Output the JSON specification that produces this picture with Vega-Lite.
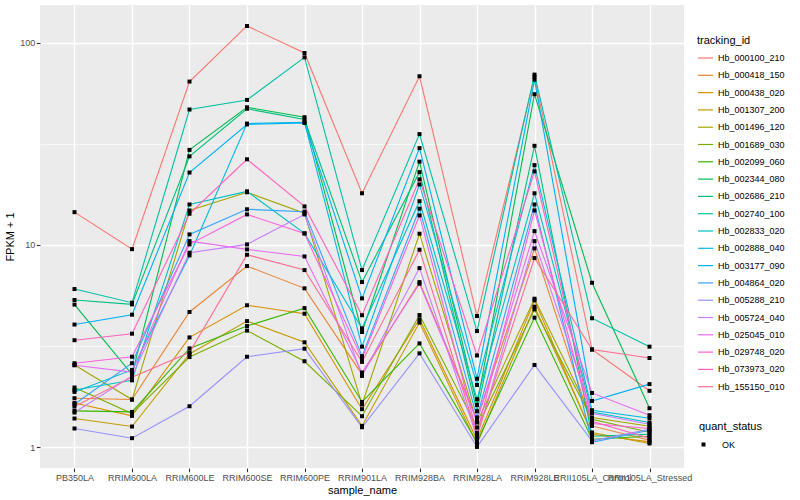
{
"$schema":"https://vega.github.io/schema/vega-lite/v6.json",
"width":644,"height":463,
"autosize":{"type":"none"},
"padding":{"left":40,"top":5,"right":116,"bottom":32},
"background":"white",
"config":{"view":{"fill":"#EBEBEB","stroke":null},"font":"Liberation Sans",
"axis":{"labelFont":"Liberation Sans","titleFont":"Liberation Sans","labelFontSize":9,"titleFontSize":11,"titleFontWeight":"normal","titleColor":"black","labelColor":"#4D4D4D","tickColor":"#333333","tickSize":3.7,"tickWidth":1.1,"domain":false,"grid":true,"gridColor":"white","gridWidth":1.4},
"legend":{"labelFont":"Liberation Sans","titleFont":"Liberation Sans","labelFontSize":9,"titleFontSize":11,"titleFontWeight":"normal","titleColor":"black","labelColor":"black"}},
"data":{"values":[
{"tracking_id":"Hb_000100_210","sample_name":"PB350LA","fpkm":14.52,"quant_status":"OK"},
{"tracking_id":"Hb_000100_210","sample_name":"RRIM600LA","fpkm":9.53,"quant_status":"OK"},
{"tracking_id":"Hb_000100_210","sample_name":"RRIM600LE","fpkm":64.2,"quant_status":"OK"},
{"tracking_id":"Hb_000100_210","sample_name":"RRIM600SE","fpkm":120.9,"quant_status":"OK"},
{"tracking_id":"Hb_000100_210","sample_name":"RRIM600PE","fpkm":88.9,"quant_status":"OK"},
{"tracking_id":"Hb_000100_210","sample_name":"RRIM901LA","fpkm":18.0,"quant_status":"OK"},
{"tracking_id":"Hb_000100_210","sample_name":"RRIM928BA","fpkm":68.2,"quant_status":"OK"},
{"tracking_id":"Hb_000100_210","sample_name":"RRIM928LA","fpkm":4.45,"quant_status":"OK"},
{"tracking_id":"Hb_000100_210","sample_name":"RRIM928LE","fpkm":67.7,"quant_status":"OK"},
{"tracking_id":"Hb_000100_210","sample_name":"RRII105LA_Control","fpkm":3.04,"quant_status":"OK"},
{"tracking_id":"Hb_000100_210","sample_name":"RRII105LA_Stressed","fpkm":1.90,"quant_status":"OK"},
{"tracking_id":"Hb_000418_150","sample_name":"PB350LA","fpkm":1.746,"quant_status":"OK"},
{"tracking_id":"Hb_000418_150","sample_name":"RRIM600LA","fpkm":1.72,"quant_status":"OK"},
{"tracking_id":"Hb_000418_150","sample_name":"RRIM600LE","fpkm":4.66,"quant_status":"OK"},
{"tracking_id":"Hb_000418_150","sample_name":"RRIM600SE","fpkm":7.86,"quant_status":"OK"},
{"tracking_id":"Hb_000418_150","sample_name":"RRIM600PE","fpkm":6.10,"quant_status":"OK"},
{"tracking_id":"Hb_000418_150","sample_name":"RRIM901LA","fpkm":2.29,"quant_status":"OK"},
{"tracking_id":"Hb_000418_150","sample_name":"RRIM928BA","fpkm":6.55,"quant_status":"OK"},
{"tracking_id":"Hb_000418_150","sample_name":"RRIM928LA","fpkm":1.375,"quant_status":"OK"},
{"tracking_id":"Hb_000418_150","sample_name":"RRIM928LE","fpkm":9.61,"quant_status":"OK"},
{"tracking_id":"Hb_000418_150","sample_name":"RRII105LA_Control","fpkm":1.274,"quant_status":"OK"},
{"tracking_id":"Hb_000418_150","sample_name":"RRII105LA_Stressed","fpkm":1.083,"quant_status":"OK"},
{"tracking_id":"Hb_000438_020","sample_name":"PB350LA","fpkm":1.655,"quant_status":"OK"},
{"tracking_id":"Hb_000438_020","sample_name":"RRIM600LA","fpkm":1.428,"quant_status":"OK"},
{"tracking_id":"Hb_000438_020","sample_name":"RRIM600LE","fpkm":3.49,"quant_status":"OK"},
{"tracking_id":"Hb_000438_020","sample_name":"RRIM600SE","fpkm":5.03,"quant_status":"OK"},
{"tracking_id":"Hb_000438_020","sample_name":"RRIM600PE","fpkm":4.57,"quant_status":"OK"},
{"tracking_id":"Hb_000438_020","sample_name":"RRIM901LA","fpkm":1.541,"quant_status":"OK"},
{"tracking_id":"Hb_000438_020","sample_name":"RRIM928BA","fpkm":4.29,"quant_status":"OK"},
{"tracking_id":"Hb_000438_020","sample_name":"RRIM928LA","fpkm":1.087,"quant_status":"OK"},
{"tracking_id":"Hb_000438_020","sample_name":"RRIM928LE","fpkm":5.32,"quant_status":"OK"},
{"tracking_id":"Hb_000438_020","sample_name":"RRII105LA_Control","fpkm":1.159,"quant_status":"OK"},
{"tracking_id":"Hb_000438_020","sample_name":"RRII105LA_Stressed","fpkm":1.062,"quant_status":"OK"},
{"tracking_id":"Hb_001307_200","sample_name":"PB350LA","fpkm":1.386,"quant_status":"OK"},
{"tracking_id":"Hb_001307_200","sample_name":"RRIM600LA","fpkm":1.265,"quant_status":"OK"},
{"tracking_id":"Hb_001307_200","sample_name":"RRIM600LE","fpkm":2.89,"quant_status":"OK"},
{"tracking_id":"Hb_001307_200","sample_name":"RRIM600SE","fpkm":4.20,"quant_status":"OK"},
{"tracking_id":"Hb_001307_200","sample_name":"RRIM600PE","fpkm":3.30,"quant_status":"OK"},
{"tracking_id":"Hb_001307_200","sample_name":"RRIM901LA","fpkm":1.274,"quant_status":"OK"},
{"tracking_id":"Hb_001307_200","sample_name":"RRIM928BA","fpkm":4.13,"quant_status":"OK"},
{"tracking_id":"Hb_001307_200","sample_name":"RRIM928LA","fpkm":1.035,"quant_status":"OK"},
{"tracking_id":"Hb_001307_200","sample_name":"RRIM928LE","fpkm":4.95,"quant_status":"OK"},
{"tracking_id":"Hb_001307_200","sample_name":"RRII105LA_Control","fpkm":1.182,"quant_status":"OK"},
{"tracking_id":"Hb_001307_200","sample_name":"RRII105LA_Stressed","fpkm":1.043,"quant_status":"OK"},
{"tracking_id":"Hb_001496_120","sample_name":"PB350LA","fpkm":2.55,"quant_status":"OK"},
{"tracking_id":"Hb_001496_120","sample_name":"RRIM600LA","fpkm":1.72,"quant_status":"OK"},
{"tracking_id":"Hb_001496_120","sample_name":"RRIM600LE","fpkm":14.8,"quant_status":"OK"},
{"tracking_id":"Hb_001496_120","sample_name":"RRIM600SE","fpkm":18.2,"quant_status":"OK"},
{"tracking_id":"Hb_001496_120","sample_name":"RRIM600PE","fpkm":14.36,"quant_status":"OK"},
{"tracking_id":"Hb_001496_120","sample_name":"RRIM901LA","fpkm":1.625,"quant_status":"OK"},
{"tracking_id":"Hb_001496_120","sample_name":"RRIM928BA","fpkm":11.36,"quant_status":"OK"},
{"tracking_id":"Hb_001496_120","sample_name":"RRIM928LA","fpkm":1.324,"quant_status":"OK"},
{"tracking_id":"Hb_001496_120","sample_name":"RRIM928LE","fpkm":5.42,"quant_status":"OK"},
{"tracking_id":"Hb_001496_120","sample_name":"RRII105LA_Control","fpkm":1.402,"quant_status":"OK"},
{"tracking_id":"Hb_001496_120","sample_name":"RRII105LA_Stressed","fpkm":1.27,"quant_status":"OK"},
{"tracking_id":"Hb_001689_030","sample_name":"PB350LA","fpkm":1.972,"quant_status":"OK"},
{"tracking_id":"Hb_001689_030","sample_name":"RRIM600LA","fpkm":1.467,"quant_status":"OK"},
{"tracking_id":"Hb_001689_030","sample_name":"RRIM600LE","fpkm":2.79,"quant_status":"OK"},
{"tracking_id":"Hb_001689_030","sample_name":"RRIM600SE","fpkm":3.77,"quant_status":"OK"},
{"tracking_id":"Hb_001689_030","sample_name":"RRIM600PE","fpkm":2.66,"quant_status":"OK"},
{"tracking_id":"Hb_001689_030","sample_name":"RRIM901LA","fpkm":1.423,"quant_status":"OK"},
{"tracking_id":"Hb_001689_030","sample_name":"RRIM928BA","fpkm":4.50,"quant_status":"OK"},
{"tracking_id":"Hb_001689_030","sample_name":"RRIM928LA","fpkm":1.251,"quant_status":"OK"},
{"tracking_id":"Hb_001689_030","sample_name":"RRIM928LE","fpkm":4.80,"quant_status":"OK"},
{"tracking_id":"Hb_001689_030","sample_name":"RRII105LA_Control","fpkm":1.375,"quant_status":"OK"},
{"tracking_id":"Hb_001689_030","sample_name":"RRII105LA_Stressed","fpkm":1.186,"quant_status":"OK"},
{"tracking_id":"Hb_002099_060","sample_name":"PB350LA","fpkm":1.511,"quant_status":"OK"},
{"tracking_id":"Hb_002099_060","sample_name":"RRIM600LA","fpkm":1.494,"quant_status":"OK"},
{"tracking_id":"Hb_002099_060","sample_name":"RRIM600LE","fpkm":3.08,"quant_status":"OK"},
{"tracking_id":"Hb_002099_060","sample_name":"RRIM600SE","fpkm":3.97,"quant_status":"OK"},
{"tracking_id":"Hb_002099_060","sample_name":"RRIM600PE","fpkm":4.87,"quant_status":"OK"},
{"tracking_id":"Hb_002099_060","sample_name":"RRIM901LA","fpkm":1.674,"quant_status":"OK"},
{"tracking_id":"Hb_002099_060","sample_name":"RRIM928BA","fpkm":3.26,"quant_status":"OK"},
{"tracking_id":"Hb_002099_060","sample_name":"RRIM928LA","fpkm":1.058,"quant_status":"OK"},
{"tracking_id":"Hb_002099_060","sample_name":"RRIM928LE","fpkm":4.37,"quant_status":"OK"},
{"tracking_id":"Hb_002099_060","sample_name":"RRII105LA_Control","fpkm":1.095,"quant_status":"OK"},
{"tracking_id":"Hb_002099_060","sample_name":"RRII105LA_Stressed","fpkm":1.133,"quant_status":"OK"},
{"tracking_id":"Hb_002344_080","sample_name":"PB350LA","fpkm":5.07,"quant_status":"OK"},
{"tracking_id":"Hb_002344_080","sample_name":"RRIM600LA","fpkm":2.29,"quant_status":"OK"},
{"tracking_id":"Hb_002344_080","sample_name":"RRIM600LE","fpkm":29.5,"quant_status":"OK"},
{"tracking_id":"Hb_002344_080","sample_name":"RRIM600SE","fpkm":47.9,"quant_status":"OK"},
{"tracking_id":"Hb_002344_080","sample_name":"RRIM600PE","fpkm":42.8,"quant_status":"OK"},
{"tracking_id":"Hb_002344_080","sample_name":"RRIM901LA","fpkm":3.71,"quant_status":"OK"},
{"tracking_id":"Hb_002344_080","sample_name":"RRIM928BA","fpkm":25.8,"quant_status":"OK"},
{"tracking_id":"Hb_002344_080","sample_name":"RRIM928LA","fpkm":1.618,"quant_status":"OK"},
{"tracking_id":"Hb_002344_080","sample_name":"RRIM928LE","fpkm":55.6,"quant_status":"OK"},
{"tracking_id":"Hb_002344_080","sample_name":"RRII105LA_Control","fpkm":6.50,"quant_status":"OK"},
{"tracking_id":"Hb_002344_080","sample_name":"RRII105LA_Stressed","fpkm":1.558,"quant_status":"OK"},
{"tracking_id":"Hb_002686_210","sample_name":"PB350LA","fpkm":5.34,"quant_status":"OK"},
{"tracking_id":"Hb_002686_210","sample_name":"RRIM600LA","fpkm":5.08,"quant_status":"OK"},
{"tracking_id":"Hb_002686_210","sample_name":"RRIM600LE","fpkm":27.4,"quant_status":"OK"},
{"tracking_id":"Hb_002686_210","sample_name":"RRIM600SE","fpkm":47.1,"quant_status":"OK"},
{"tracking_id":"Hb_002686_210","sample_name":"RRIM600PE","fpkm":41.7,"quant_status":"OK"},
{"tracking_id":"Hb_002686_210","sample_name":"RRIM901LA","fpkm":6.55,"quant_status":"OK"},
{"tracking_id":"Hb_002686_210","sample_name":"RRIM928BA","fpkm":22.9,"quant_status":"OK"},
{"tracking_id":"Hb_002686_210","sample_name":"RRIM928LA","fpkm":1.506,"quant_status":"OK"},
{"tracking_id":"Hb_002686_210","sample_name":"RRIM928LE","fpkm":30.9,"quant_status":"OK"},
{"tracking_id":"Hb_002686_210","sample_name":"RRII105LA_Control","fpkm":1.133,"quant_status":"OK"},
{"tracking_id":"Hb_002686_210","sample_name":"RRII105LA_Stressed","fpkm":1.159,"quant_status":"OK"},
{"tracking_id":"Hb_002740_100","sample_name":"PB350LA","fpkm":6.05,"quant_status":"OK"},
{"tracking_id":"Hb_002740_100","sample_name":"RRIM600LA","fpkm":5.18,"quant_status":"OK"},
{"tracking_id":"Hb_002740_100","sample_name":"RRIM600LE","fpkm":46.7,"quant_status":"OK"},
{"tracking_id":"Hb_002740_100","sample_name":"RRIM600SE","fpkm":52.1,"quant_status":"OK"},
{"tracking_id":"Hb_002740_100","sample_name":"RRIM600PE","fpkm":84.6,"quant_status":"OK"},
{"tracking_id":"Hb_002740_100","sample_name":"RRIM901LA","fpkm":7.51,"quant_status":"OK"},
{"tracking_id":"Hb_002740_100","sample_name":"RRIM928BA","fpkm":35.3,"quant_status":"OK"},
{"tracking_id":"Hb_002740_100","sample_name":"RRIM928LA","fpkm":3.75,"quant_status":"OK"},
{"tracking_id":"Hb_002740_100","sample_name":"RRIM928LE","fpkm":69.5,"quant_status":"OK"},
{"tracking_id":"Hb_002740_100","sample_name":"RRII105LA_Control","fpkm":4.34,"quant_status":"OK"},
{"tracking_id":"Hb_002740_100","sample_name":"RRII105LA_Stressed","fpkm":3.14,"quant_status":"OK"},
{"tracking_id":"Hb_002833_020","sample_name":"PB350LA","fpkm":1.918,"quant_status":"OK"},
{"tracking_id":"Hb_002833_020","sample_name":"RRIM600LA","fpkm":2.14,"quant_status":"OK"},
{"tracking_id":"Hb_002833_020","sample_name":"RRIM600LE","fpkm":15.85,"quant_status":"OK"},
{"tracking_id":"Hb_002833_020","sample_name":"RRIM600SE","fpkm":18.4,"quant_status":"OK"},
{"tracking_id":"Hb_002833_020","sample_name":"RRIM600PE","fpkm":11.4,"quant_status":"OK"},
{"tracking_id":"Hb_002833_020","sample_name":"RRIM901LA","fpkm":3.87,"quant_status":"OK"},
{"tracking_id":"Hb_002833_020","sample_name":"RRIM928BA","fpkm":16.45,"quant_status":"OK"},
{"tracking_id":"Hb_002833_020","sample_name":"RRIM928LA","fpkm":1.726,"quant_status":"OK"},
{"tracking_id":"Hb_002833_020","sample_name":"RRIM928LE","fpkm":18.0,"quant_status":"OK"},
{"tracking_id":"Hb_002833_020","sample_name":"RRII105LA_Control","fpkm":1.494,"quant_status":"OK"},
{"tracking_id":"Hb_002833_020","sample_name":"RRII105LA_Stressed","fpkm":1.324,"quant_status":"OK"},
{"tracking_id":"Hb_002888_040","sample_name":"PB350LA","fpkm":1.876,"quant_status":"OK"},
{"tracking_id":"Hb_002888_040","sample_name":"RRIM600LA","fpkm":2.41,"quant_status":"OK"},
{"tracking_id":"Hb_002888_040","sample_name":"RRIM600LE","fpkm":8.87,"quant_status":"OK"},
{"tracking_id":"Hb_002888_040","sample_name":"RRIM600SE","fpkm":39.8,"quant_status":"OK"},
{"tracking_id":"Hb_002888_040","sample_name":"RRIM600PE","fpkm":40.4,"quant_status":"OK"},
{"tracking_id":"Hb_002888_040","sample_name":"RRIM901LA","fpkm":3.14,"quant_status":"OK"},
{"tracking_id":"Hb_002888_040","sample_name":"RRIM928BA","fpkm":19.9,"quant_status":"OK"},
{"tracking_id":"Hb_002888_040","sample_name":"RRIM928LA","fpkm":2.03,"quant_status":"OK"},
{"tracking_id":"Hb_002888_040","sample_name":"RRIM928LE","fpkm":24.8,"quant_status":"OK"},
{"tracking_id":"Hb_002888_040","sample_name":"RRII105LA_Control","fpkm":1.523,"quant_status":"OK"},
{"tracking_id":"Hb_002888_040","sample_name":"RRII105LA_Stressed","fpkm":1.39,"quant_status":"OK"},
{"tracking_id":"Hb_003177_090","sample_name":"PB350LA","fpkm":4.04,"quant_status":"OK"},
{"tracking_id":"Hb_003177_090","sample_name":"RRIM600LA","fpkm":4.52,"quant_status":"OK"},
{"tracking_id":"Hb_003177_090","sample_name":"RRIM600LE","fpkm":22.8,"quant_status":"OK"},
{"tracking_id":"Hb_003177_090","sample_name":"RRIM600SE","fpkm":39.4,"quant_status":"OK"},
{"tracking_id":"Hb_003177_090","sample_name":"RRIM600PE","fpkm":40.1,"quant_status":"OK"},
{"tracking_id":"Hb_003177_090","sample_name":"RRIM901LA","fpkm":5.44,"quant_status":"OK"},
{"tracking_id":"Hb_003177_090","sample_name":"RRIM928BA","fpkm":30.1,"quant_status":"OK"},
{"tracking_id":"Hb_003177_090","sample_name":"RRIM928LA","fpkm":2.18,"quant_status":"OK"},
{"tracking_id":"Hb_003177_090","sample_name":"RRIM928LE","fpkm":65.6,"quant_status":"OK"},
{"tracking_id":"Hb_003177_090","sample_name":"RRII105LA_Control","fpkm":1.693,"quant_status":"OK"},
{"tracking_id":"Hb_003177_090","sample_name":"RRII105LA_Stressed","fpkm":2.05,"quant_status":"OK"},
{"tracking_id":"Hb_004864_020","sample_name":"PB350LA","fpkm":1.63,"quant_status":"OK"},
{"tracking_id":"Hb_004864_020","sample_name":"RRIM600LA","fpkm":2.60,"quant_status":"OK"},
{"tracking_id":"Hb_004864_020","sample_name":"RRIM600LE","fpkm":11.27,"quant_status":"OK"},
{"tracking_id":"Hb_004864_020","sample_name":"RRIM600SE","fpkm":15.0,"quant_status":"OK"},
{"tracking_id":"Hb_004864_020","sample_name":"RRIM600PE","fpkm":14.6,"quant_status":"OK"},
{"tracking_id":"Hb_004864_020","sample_name":"RRIM901LA","fpkm":2.82,"quant_status":"OK"},
{"tracking_id":"Hb_004864_020","sample_name":"RRIM928BA","fpkm":15.1,"quant_status":"OK"},
{"tracking_id":"Hb_004864_020","sample_name":"RRIM928LA","fpkm":1.402,"quant_status":"OK"},
{"tracking_id":"Hb_004864_020","sample_name":"RRIM928LE","fpkm":15.85,"quant_status":"OK"},
{"tracking_id":"Hb_004864_020","sample_name":"RRII105LA_Control","fpkm":1.058,"quant_status":"OK"},
{"tracking_id":"Hb_004864_020","sample_name":"RRII105LA_Stressed","fpkm":1.213,"quant_status":"OK"},
{"tracking_id":"Hb_005288_210","sample_name":"PB350LA","fpkm":1.237,"quant_status":"OK"},
{"tracking_id":"Hb_005288_210","sample_name":"RRIM600LA","fpkm":1.108,"quant_status":"OK"},
{"tracking_id":"Hb_005288_210","sample_name":"RRIM600LE","fpkm":1.594,"quant_status":"OK"},
{"tracking_id":"Hb_005288_210","sample_name":"RRIM600SE","fpkm":2.80,"quant_status":"OK"},
{"tracking_id":"Hb_005288_210","sample_name":"RRIM600PE","fpkm":3.07,"quant_status":"OK"},
{"tracking_id":"Hb_005288_210","sample_name":"RRIM901LA","fpkm":1.255,"quant_status":"OK"},
{"tracking_id":"Hb_005288_210","sample_name":"RRIM928BA","fpkm":2.91,"quant_status":"OK"},
{"tracking_id":"Hb_005288_210","sample_name":"RRIM928LA","fpkm":1.003,"quant_status":"OK"},
{"tracking_id":"Hb_005288_210","sample_name":"RRIM928LE","fpkm":2.55,"quant_status":"OK"},
{"tracking_id":"Hb_005288_210","sample_name":"RRII105LA_Control","fpkm":1.074,"quant_status":"OK"},
{"tracking_id":"Hb_005288_210","sample_name":"RRII105LA_Stressed","fpkm":1.227,"quant_status":"OK"},
{"tracking_id":"Hb_005724_040","sample_name":"PB350LA","fpkm":1.484,"quant_status":"OK"},
{"tracking_id":"Hb_005724_040","sample_name":"RRIM600LA","fpkm":2.25,"quant_status":"OK"},
{"tracking_id":"Hb_005724_040","sample_name":"RRIM600LE","fpkm":9.15,"quant_status":"OK"},
{"tracking_id":"Hb_005724_040","sample_name":"RRIM600SE","fpkm":10.06,"quant_status":"OK"},
{"tracking_id":"Hb_005724_040","sample_name":"RRIM600PE","fpkm":14.15,"quant_status":"OK"},
{"tracking_id":"Hb_005724_040","sample_name":"RRIM901LA","fpkm":2.25,"quant_status":"OK"},
{"tracking_id":"Hb_005724_040","sample_name":"RRIM928BA","fpkm":7.68,"quant_status":"OK"},
{"tracking_id":"Hb_005724_040","sample_name":"RRIM928LA","fpkm":1.12,"quant_status":"OK"},
{"tracking_id":"Hb_005724_040","sample_name":"RRIM928LE","fpkm":10.44,"quant_status":"OK"},
{"tracking_id":"Hb_005724_040","sample_name":"RRII105LA_Control","fpkm":1.472,"quant_status":"OK"},
{"tracking_id":"Hb_005724_040","sample_name":"RRII105LA_Stressed","fpkm":1.299,"quant_status":"OK"},
{"tracking_id":"Hb_025045_010","sample_name":"PB350LA","fpkm":2.54,"quant_status":"OK"},
{"tracking_id":"Hb_025045_010","sample_name":"RRIM600LA","fpkm":2.35,"quant_status":"OK"},
{"tracking_id":"Hb_025045_010","sample_name":"RRIM600LE","fpkm":10.44,"quant_status":"OK"},
{"tracking_id":"Hb_025045_010","sample_name":"RRIM600SE","fpkm":9.5,"quant_status":"OK"},
{"tracking_id":"Hb_025045_010","sample_name":"RRIM600PE","fpkm":8.77,"quant_status":"OK"},
{"tracking_id":"Hb_025045_010","sample_name":"RRIM901LA","fpkm":2.34,"quant_status":"OK"},
{"tracking_id":"Hb_025045_010","sample_name":"RRIM928BA","fpkm":6.43,"quant_status":"OK"},
{"tracking_id":"Hb_025045_010","sample_name":"RRIM928LA","fpkm":1.349,"quant_status":"OK"},
{"tracking_id":"Hb_025045_010","sample_name":"RRIM928LE","fpkm":11.7,"quant_status":"OK"},
{"tracking_id":"Hb_025045_010","sample_name":"RRII105LA_Control","fpkm":1.854,"quant_status":"OK"},
{"tracking_id":"Hb_025045_010","sample_name":"RRII105LA_Stressed","fpkm":1.439,"quant_status":"OK"},
{"tracking_id":"Hb_029748_020","sample_name":"PB350LA","fpkm":2.60,"quant_status":"OK"},
{"tracking_id":"Hb_029748_020","sample_name":"RRIM600LA","fpkm":2.80,"quant_status":"OK"},
{"tracking_id":"Hb_029748_020","sample_name":"RRIM600LE","fpkm":10.06,"quant_status":"OK"},
{"tracking_id":"Hb_029748_020","sample_name":"RRIM600SE","fpkm":14.15,"quant_status":"OK"},
{"tracking_id":"Hb_029748_020","sample_name":"RRIM600PE","fpkm":11.4,"quant_status":"OK"},
{"tracking_id":"Hb_029748_020","sample_name":"RRIM901LA","fpkm":2.74,"quant_status":"OK"},
{"tracking_id":"Hb_029748_020","sample_name":"RRIM928BA","fpkm":13.99,"quant_status":"OK"},
{"tracking_id":"Hb_029748_020","sample_name":"RRIM928LA","fpkm":1.177,"quant_status":"OK"},
{"tracking_id":"Hb_029748_020","sample_name":"RRIM928LE","fpkm":14.8,"quant_status":"OK"},
{"tracking_id":"Hb_029748_020","sample_name":"RRII105LA_Control","fpkm":1.31,"quant_status":"OK"},
{"tracking_id":"Hb_029748_020","sample_name":"RRII105LA_Stressed","fpkm":1.237,"quant_status":"OK"},
{"tracking_id":"Hb_073973_020","sample_name":"PB350LA","fpkm":3.38,"quant_status":"OK"},
{"tracking_id":"Hb_073973_020","sample_name":"RRIM600LA","fpkm":3.64,"quant_status":"OK"},
{"tracking_id":"Hb_073973_020","sample_name":"RRIM600LE","fpkm":14.26,"quant_status":"OK"},
{"tracking_id":"Hb_073973_020","sample_name":"RRIM600SE","fpkm":26.5,"quant_status":"OK"},
{"tracking_id":"Hb_073973_020","sample_name":"RRIM600PE","fpkm":15.5,"quant_status":"OK"},
{"tracking_id":"Hb_073973_020","sample_name":"RRIM901LA","fpkm":4.49,"quant_status":"OK"},
{"tracking_id":"Hb_073973_020","sample_name":"RRIM928BA","fpkm":21.1,"quant_status":"OK"},
{"tracking_id":"Hb_073973_020","sample_name":"RRIM928LA","fpkm":2.84,"quant_status":"OK"},
{"tracking_id":"Hb_073973_020","sample_name":"RRIM928LE","fpkm":23.1,"quant_status":"OK"},
{"tracking_id":"Hb_073973_020","sample_name":"RRII105LA_Control","fpkm":1.344,"quant_status":"OK"},
{"tracking_id":"Hb_073973_020","sample_name":"RRII105LA_Stressed","fpkm":1.108,"quant_status":"OK"},
{"tracking_id":"Hb_155150_010","sample_name":"PB350LA","fpkm":1.588,"quant_status":"OK"},
{"tracking_id":"Hb_155150_010","sample_name":"RRIM600LA","fpkm":2.22,"quant_status":"OK"},
{"tracking_id":"Hb_155150_010","sample_name":"RRIM600LE","fpkm":2.94,"quant_status":"OK"},
{"tracking_id":"Hb_155150_010","sample_name":"RRIM600SE","fpkm":8.94,"quant_status":"OK"},
{"tracking_id":"Hb_155150_010","sample_name":"RRIM600PE","fpkm":7.51,"quant_status":"OK"},
{"tracking_id":"Hb_155150_010","sample_name":"RRIM901LA","fpkm":2.64,"quant_status":"OK"},
{"tracking_id":"Hb_155150_010","sample_name":"RRIM928BA","fpkm":9.47,"quant_status":"OK"},
{"tracking_id":"Hb_155150_010","sample_name":"RRIM928LA","fpkm":1.146,"quant_status":"OK"},
{"tracking_id":"Hb_155150_010","sample_name":"RRIM928LE","fpkm":8.61,"quant_status":"OK"},
{"tracking_id":"Hb_155150_010","sample_name":"RRII105LA_Control","fpkm":3.04,"quant_status":"OK"},
{"tracking_id":"Hb_155150_010","sample_name":"RRII105LA_Stressed","fpkm":2.76,"quant_status":"OK"}
]},
"layer":[
{"mark":{"type":"line","strokeWidth":1.1},
"encoding":{
"x":{"field":"sample_name","type":"nominal","sort":["PB350LA","RRIM600LA","RRIM600LE","RRIM600SE","RRIM600PE","RRIM901LA","RRIM928BA","RRIM928LA","RRIM928LE","RRII105LA_Control","RRII105LA_Stressed"],"scale":{"type":"point","padding":0.6},"axis":{"title":"sample_name","labelAngle":0,"labelOverlap":false,"labelBound":false,"labelPadding":2,"titlePadding":2}},
"y":{"field":"fpkm","type":"quantitative","scale":{"type":"log","domain":[0.789,153.5],"nice":false,"zero":false},"axis":{"values":[1,10,100],"format":"d","title":"FPKM + 1","labelPadding":1.5,"titlePadding":4}},
"color":{"field":"tracking_id","type":"nominal","scale":{"domain":["Hb_000100_210","Hb_000418_150","Hb_000438_020","Hb_001307_200","Hb_001496_120","Hb_001689_030","Hb_002099_060","Hb_002344_080","Hb_002686_210","Hb_002740_100","Hb_002833_020","Hb_002888_040","Hb_003177_090","Hb_004864_020","Hb_005288_210","Hb_005724_040","Hb_025045_010","Hb_029748_020","Hb_073973_020","Hb_155150_010"],"range":["#F8766D","#EA8331","#D89000","#C09B00","#A3A500","#7CAE00","#39B600","#00BB4E","#00BF7D","#00C1A3","#00BFC4","#00BAE0","#00B0F6","#35A2FF","#9590FF","#C77CFF","#E76BF3","#FA62DB","#FF62BC","#FF6C91"]},"legend":{"title":"tracking_id","orient":"none","legendX":657,"legendY":30,"symbolType":"stroke","symbolSize":225,"symbolStrokeWidth":1.2,"rowPadding":3.3,"titlePadding":3.5,"labelOffset":4}},
"order":{"value":null}
}},
{"mark":{"type":"point","filled":true,"color":"black","size":16,"opacity":1},
"encoding":{
"x":{"field":"sample_name","type":"nominal","sort":["PB350LA","RRIM600LA","RRIM600LE","RRIM600SE","RRIM600PE","RRIM901LA","RRIM928BA","RRIM928LA","RRIM928LE","RRII105LA_Control","RRII105LA_Stressed"]},
"y":{"field":"fpkm","type":"quantitative","axis":{"values":[3.1623,31.623],"labels":false,"ticks":false,"domain":false,"title":null,"grid":true,"gridColor":"white","gridWidth":0.7,"orient":"left"}},
"shape":{"field":"quant_status","type":"nominal","scale":{"range":["square"]},"legend":{"title":"quant_status","orient":"none","legendX":659,"legendY":416,"symbolFillColor":"black","symbolStrokeColor":"black","symbolSize":16,"titlePadding":8,"labelOffset":14}}
}}
],
"resolve":{"axis":{"y":"independent"}}
}
